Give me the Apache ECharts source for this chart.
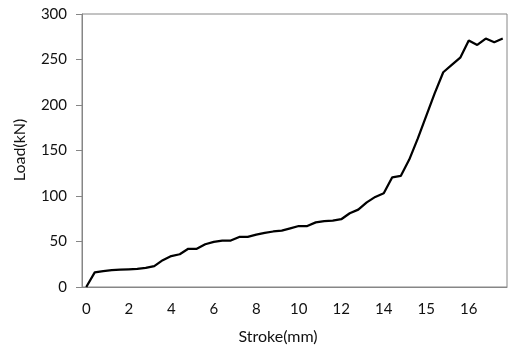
<!DOCTYPE html>
<html>
<head>
<meta charset="utf-8">
<script src="https://cdn.jsdelivr.net/npm/echarts@6/dist/echarts.min.js"></script>
<style>
  html, body { margin: 0; padding: 0; background: #fff; }
  #chart { width: 508px; height: 348px; }
</style>
</head>
<body>
<div id="chart"></div>
<script>
// stroke categories (only every 5th label is shown, like the source chart)
const strokeCats = [
  '0', '0.4', '0.8', '1.2', '1.6', '2', '2.4', '2.8', '3.2', '3.6',
  '4', '4.4', '4.8', '5.2', '5.6', '6', '6.4', '6.8', '7.2', '7.6',
  '8', '8.4', '8.8', '9.2', '9.6', '10', '10.4', '10.8', '11.2', '11.6',
  '12', '12.4', '12.8', '13.2', '13.6', '14', '14.2', '14.4', '14.6', '14.8',
  '15', '15.2', '15.4', '15.6', '15.8', '16', '16.2', '16.4', '16.6', '16.8'
];
// load in kN
const loadValues = [
  0, 16, 17.5, 18.5, 19, 19.5, 20, 21, 23, 29.5,
  34, 36, 42, 42, 47, 49.5, 51, 51, 55, 55,
  57.5, 59.5, 61, 62, 64.5, 67, 67, 71, 72.5, 73,
  74.5, 81, 85, 93, 99, 103, 120.5, 122, 140, 163,
  188, 213, 236, 244, 252, 271, 266, 273, 269, 273
];
const yTicks = { min: 0, max: 300, step: 50 };

const chart = echarts.init(document.getElementById('chart'));
const font = 'Lato, "Open Sans", sans-serif';
const gray = '#868686';

chart.setOption({
  animation: false,
  backgroundColor: '#fff',
  grid: {
    left: 82, right: 1, top: 14, bottom: 61,
    show: true, borderColor: gray, borderWidth: 1
  },
  xAxis: {
    type: 'category',
    data: strokeCats,
    boundaryGap: true,
    axisLine: { lineStyle: { color: gray, width: 1 } },
    axisTick: { inside: true, length: 5, interval: 9, lineStyle: { color: gray } },
    axisLabel: { interval: 4, margin: 15, color: '#111', fontFamily: font, fontSize: 15 },
    splitLine: { show: false }
  },
  yAxis: {
    type: 'value',
    min: yTicks.min, max: yTicks.max, interval: yTicks.step,
    axisLine: { show: true, lineStyle: { color: gray, width: 1 } },
    axisTick: { show: true, inside: false, length: 6, lineStyle: { color: gray } },
    axisLabel: { margin: 15, color: '#111', fontFamily: font, fontSize: 15 },
    splitLine: { show: false }
  },
  graphic: [
    {
      type: 'text', x: 278, y: 337,
      style: { text: 'Stroke(mm)', fill: '#111', font: '16px ' + font, textAlign: 'center', textVerticalAlign: 'middle' }
    },
    {
      type: 'text', x: 20, y: 150, rotation: Math.PI / 2,
      style: { text: 'Load(kN)', fill: '#111', font: '16px ' + font, textAlign: 'center', textVerticalAlign: 'middle' }
    }
  ],
  series: [{
    type: 'line',
    data: loadValues,
    symbol: 'none',
    lineStyle: { color: '#000', width: 2.25 }
  }]
});
</script>
</body>
</html>
